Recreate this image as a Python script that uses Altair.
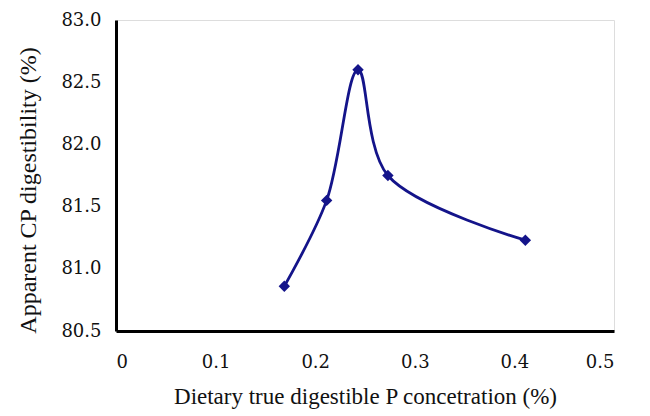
import altair as alt
import pandas as pd

x_vals = [0.169, 0.2115, 0.243, 0.273, 0.411]
y_vals = [80.86, 81.55, 82.60, 81.75, 81.23]

df = pd.DataFrame({"x": x_vals, "y": y_vals})

color = "#14148a"
font = "Liberation Serif"

xenc = alt.X("x:Q", scale=alt.Scale(domain=[0, 0.5], nice=False, zero=False),
             axis=alt.Axis(values=[0, 0.1, 0.2, 0.3, 0.4, 0.5],
                           labelExpr="datum.value == 0 ? '0' : format(datum.value, '.1f')",
                           title="Dietary true digestible P concetration (%)",
                           labelPadding=22, titlePadding=14, titleFontSize=23))
yenc = alt.Y("y:Q", scale=alt.Scale(domain=[80.5, 83.0], nice=False, zero=False),
             axis=alt.Axis(values=[80.5, 81.0, 81.5, 82.0, 82.5, 83.0], format=".1f",
                           title="Apparent CP digestibility (%)",
                           labelPadding=15, titlePadding=20, titleFontSize=24, titleY=170))

base = alt.Chart(df).encode(x=xenc, y=yenc)
line = base.mark_line(color=color, strokeWidth=2.8, interpolate="catmull-rom")
pts = base.mark_point(shape="diamond", filled=True, color=color, size=130, opacity=1)

chart = (line + pts).properties(
    width=498, height=311,
    autosize=alt.AutoSizeParams(type="none"),
    padding={"left": 116, "top": 20, "right": 36, "bottom": 85},
).configure_view(stroke=None).configure(background="white").configure_axis(
    grid=False, ticks=False, domainColor="black", domainWidth=3,
    labelFont="DejaVu Serif", labelFontSize=18, labelColor="#111",
    titleFont=font, titleFontWeight="normal", titleColor="#111",
)

chart.save("out.html", embed_options={"renderer": "svg", "actions": False})
